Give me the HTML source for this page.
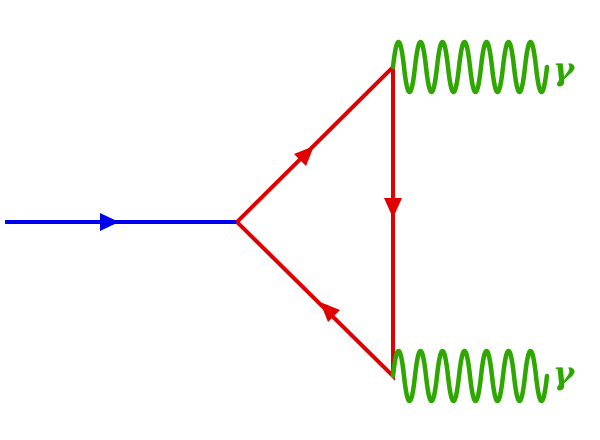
<!DOCTYPE html>
<html><head><style>html,body{margin:0;padding:0;background:#fff;width:600px;height:440px;overflow:hidden}</style></head>
<body>
<svg width="600" height="440" viewBox="0 0 600 440" xmlns="http://www.w3.org/2000/svg">
<line x1="5" y1="222" x2="237" y2="222" stroke="#0000ee" stroke-width="4"/>
<polygon points="119,222 100,213 100,231" fill="#0000ee"/>
<g stroke="#e00000" stroke-width="4" fill="none" stroke-linejoin="miter">
<polyline points="237,222 393,67 393,376 237,222"/>
</g>
<g fill="#e00000">
<polygon points="314,146 294,154 306,166"/>
<polygon points="393,218 384,198 402,198"/>
<polygon points="320,302 328,322 340,310"/>
</g>
<g stroke="#2ea800" stroke-width="4.5" fill="none" stroke-linecap="round">
<path d="M393 67 q5.5 -50 11 0 t11 0 t11 0 t11 0 t11 0 t11 0 t11 0 t11 0 t11 0 t11 0 t11 0 t11 0 t11 0 t11 0"/>
<path d="M393 376 q5.5 -50 11 0 t11 0 t11 0 t11 0 t11 0 t11 0 t11 0 t11 0 t11 0 t11 0 t11 0 t11 0 t11 0 t11 0"/>
</g>
<g fill="#2ea800" font-family="DejaVu Serif, serif" font-size="32" font-weight="bold" font-style="italic">
<text x="553" y="80">γ</text>
<text x="553" y="384">γ</text>
</g>
</svg>
</body></html>
